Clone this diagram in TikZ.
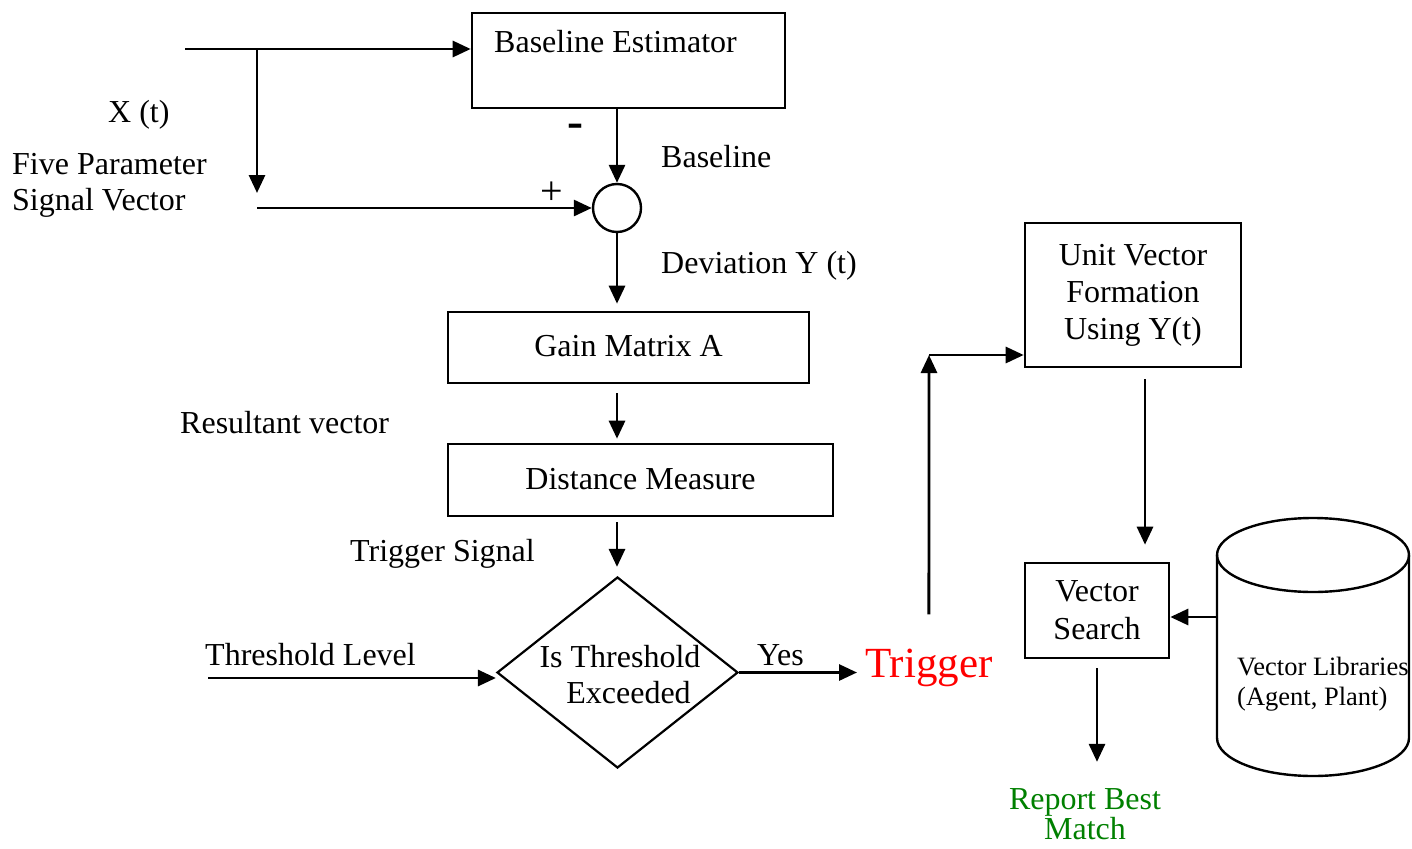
\documentclass[tikz,border=0pt]{standalone}
\usepackage{fontspec}
\setmainfont{Liberation Serif}
\usetikzlibrary{arrows.meta,shapes.geometric,calc}
\definecolor{repgreen}{RGB}{0,128,0}
\begin{document}
\begin{tikzpicture}[x=1pt,y=-1pt,
  every node/.style={font=\fontsize{32}{37}\selectfont, inner sep=0pt},
  box/.style={draw, line width=2.6pt, align=center},
  arr/.style={line width=2.9pt, -{Triangle[length=18pt,width=16pt]}},
  lbl/.style={anchor=base west},
  ctr/.style={anchor=base},
  shape line/.style={line width=2.4pt}
]
\useasboundingbox (0,0) rectangle (1412,848);

% blocks
\node[box, minimum width=313pt, minimum height=95pt] (be) at (628.5,60.5) {};
\node[lbl] (betext) at (494,53) {Baseline Estimator};
\node[draw, circle, shape line, minimum size=48pt] (sum) at (617,208) {};
\node[box, minimum width=361pt, minimum height=71pt, text height=22pt, text depth=4pt] (gain) at (628.5,347.5) {Gain Matrix A};
\node[box, minimum width=385pt, minimum height=72pt, text height=22pt, text depth=3pt] (dist) at (640.5,480) {Distance Measure};
\node[draw, diamond, line width=2.2pt, minimum width=241pt, minimum height=191pt] (dia) at (617.5,672.5) {};
\node[ctr] (is) at (620,667) {Is Threshold};
\node[ctr] (ex) at (628.5,703) {Exceeded};
\node[lbl, text=red, font=\fontsize{43}{50}\selectfont] (trig) at (865,677) {Trigger};
\node[box, minimum width=216pt, minimum height=144pt] (uv) at (1133,295) {Unit Vector\\Formation\\Using Y(t)};
\node[box, minimum width=144pt, minimum height=95pt, font=\fontsize{32}{38}\selectfont] (vs) at (1097,610.5) {Vector\\Search};

% cylinder (vector libraries)
\draw[shape line] (1217,555) -- (1217,738) arc[start angle=180, end angle=360, x radius=96pt, y radius=38pt] -- (1409,555);
\draw[shape line] (1313,555) ellipse [x radius=96pt, y radius=37pt];
\coordinate (libL) at (1217,617);
\node[lbl, font=\fontsize{26.5}{31}\selectfont] (lib1) at (1237,675) {Vector Libraries};
\node[lbl, font=\fontsize{26.5}{31}\selectfont] (lib2) at (1237,705) {(Agent, Plant)};

% labels
\node[lbl] (xt) at (108,122) {X (t)};
\node[lbl] (fp) at (12,174) {Five Parameter};
\node[lbl] (sv) at (12,210) {Signal Vector};
\node[lbl] (bl) at (661,167) {Baseline};
\node[lbl] (dev) at (661,273) {Deviation Y (t)};
\node[lbl] (res) at (180,433) {Resultant vector};
\node[lbl] (ts) at (350,561) {Trigger Signal};
\node[lbl] (thl) at (205,665) {Threshold Level};
\node[lbl] (yes) at (757,665) {Yes};
\node[font=\fontsize{40}{46}\selectfont] (plus) at (552,193) {+};
\node (minus) at (575,131) {\fontsize{48}{54}\selectfont\bfseries -};
\node[ctr, text=repgreen] (rep1) at (1085,809) {Report Best};
\node[ctr, text=repgreen] (rep2) at (1085,839) {Match};

% connectors
\coordinate (in) at (185,49);
\coordinate (br) at (257,49);
\coordinate (brend) at (257,193);
\coordinate (pstart) at (257,208);
\coordinate (th) at (208,678);
\coordinate (corner) at (929,355);

\draw[line width=2.9pt] (in) -- (br);
\draw[arr] (br) -- (in -| be.west);
\draw[arr] (br) -- (brend);
\draw[arr] (pstart) -- (sum.west);
\draw[arr] (sum.north |- be.south) -- (sum.north);
\draw[arr, shorten >=7pt] (sum.south) -- (sum.south |- gain.north);
\draw[arr, shorten <=9pt, shorten >=4pt] (sum |- gain.south) -- (sum |- dist.north);
\draw[arr, shorten <=5pt, shorten >=9pt] (sum |- dist.south) -- (sum |- dia.north);
\draw[arr] (th) -- (th -| dia.west);
\draw[arr, shorten >=8pt] (dia.east) -- (dia.east -| trig.west);
\draw[arr, shorten <=34pt] (trig.north) -- (corner);
\draw[arr] (corner) -- (corner -| uv.west);
\draw[arr, shorten <=11pt, shorten >=17pt] ($(uv.south)+(12,0)$) -- ($(vs.north)+(48,0)$);
\draw[arr] (libL) -- (libL -| vs.east);
\draw[arr, shorten <=9pt, shorten >=26pt] (vs.south) -- (vs.south |- rep1.north);
\end{tikzpicture}
\end{document}
